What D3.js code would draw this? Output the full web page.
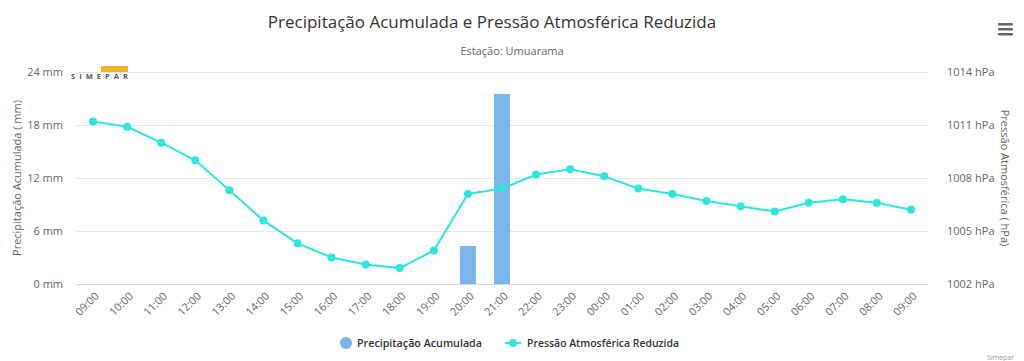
<!DOCTYPE html>
<html><head><meta charset="utf-8">
<script src="https://cdn.jsdelivr.net/npm/d3@7"></script>
<style>body{margin:0;background:#fff;font-family:"Open Sans","DejaVu Sans",sans-serif;}</style>
</head><body><svg id="c" width="1024" height="361"></svg>
<script>
const categories = ["09:00","10:00","11:00","12:00","13:00","14:00","15:00","16:00","17:00","18:00","19:00","20:00","21:00","22:00","23:00","00:00","01:00","02:00","03:00","04:00","05:00","06:00","07:00","08:00","09:00"];
const precip = [0,0,0,0,0,0,0,0,0,0,0,4.3,21.5,0,0,0,0,0,0,0,0,0,0,0,0];
const pressure = [1011.2,1010.9,1010.0,1009.0,1007.3,1005.6,1004.3,1003.5,1003.1,1002.9,1003.9,1007.1,1007.4,1008.2,1008.5,1008.1,1007.4,1007.1,1006.7,1006.4,1006.1,1006.6,1006.8,1006.6,1006.2];
const precipTicks = [0,6,12,18,24];
const pressTicks = [1002,1005,1008,1011,1014];

const svg = d3.select("#c");
const L = 76, R = 928, T = 72, B = 284;
const x = d3.scaleBand().domain(d3.range(categories.length)).range([L, R]).paddingInner(0).paddingOuter(0);
const yL = d3.scaleLinear().domain([0,24]).range([B,T]);
const yR = d3.scaleLinear().domain([1002,1014]).range([B,T]);

// title
svg.append("text").attr("x",492).attr("y",28).attr("text-anchor","middle").attr("font-size",17).attr("fill","#333").text("Precipitação Acumulada e Pressão Atmosférica Reduzida");
svg.append("text").attr("x",512).attr("y",55).attr("text-anchor","middle").attr("font-size",11).attr("fill","#666").text("Estação: Umuarama");

// menu icon
[0,5,10].forEach(d=>svg.append("rect").attr("x",998).attr("y",23+d).attr("width",15).attr("height",2.5).attr("rx",1).attr("fill","#666"));

// grid
svg.append("g").selectAll("line").data(precipTicks).join("line")
  .attr("x1",L).attr("x2",R).attr("y1",d=>Math.round(yL(d))+0.5).attr("y2",d=>Math.round(yL(d))+0.5)
  .attr("stroke",d=>d===0?"#ccd6eb":"#e6e6e6").attr("stroke-width",1);

// left axis labels
const gl = svg.append("g").attr("transform",`translate(${L-8},0)`)
  .call(d3.axisLeft(yL).tickValues(precipTicks).tickSize(0).tickFormat(d=>d+" mm"));
gl.select(".domain").remove();
gl.selectAll("text").attr("font-size",11).attr("fill","#666").attr("font-family","Open Sans, sans-serif").attr("dx",-2);

const gr = svg.append("g").attr("transform",`translate(${R+16},0)`)
  .call(d3.axisRight(yR).tickValues(pressTicks).tickSize(0).tickFormat(d=>d+" hPa"));
gr.select(".domain").remove();
gr.selectAll("text").attr("font-size",11).attr("fill","#666").attr("font-family","Open Sans, sans-serif");

// axis titles
svg.append("text").attr("transform",`translate(21,${(T+B)/2}) rotate(-90)`).attr("text-anchor","middle").attr("font-size",11).attr("fill","#666").text("Precipitação Acumulada ( mm)");
svg.append("text").attr("transform",`translate(1001,${(T+B)/2}) rotate(90)`).attr("text-anchor","middle").attr("font-size",11).attr("fill","#666").text("Pressão Atmosférica ( hPa)");

// x axis labels
const gx = svg.append("g").attr("transform",`translate(0,${B})`)
  .call(d3.axisBottom(x).tickSize(0).tickFormat(i=>categories[i]));
gx.select(".domain").remove();
gx.selectAll("text").attr("font-size",11).attr("fill","#666").attr("font-family","Open Sans, sans-serif")
  .attr("text-anchor","end").attr("transform","translate(4,10) rotate(-45)").attr("dy","0.35em").attr("y",0);

// logo
const logo = svg.append("g");
logo.append("rect").attr("x",101).attr("y",66).attr("width",27).attr("height",6).attr("fill","#f0b429");
logo.append("text").attr("x",71).attr("y",79).attr("font-size",7.5).attr("font-weight","bold").attr("textLength",57).attr("lengthAdjust","spacing").attr("fill","#555").text("SIMEPAR");

// bars
svg.append("g").selectAll("rect").data(precip.map((v,i)=>({v,i})).filter(d=>d.v>0)).join("rect")
  .attr("x",d=>x(d.i)+x.bandwidth()/2-8).attr("width",16)
  .attr("y",d=>yL(d.v)).attr("height",d=>yL(0)-yL(d.v)).attr("fill","#7cb5ec");

// line
const cx = i=>x(i)+x.bandwidth()/2;
svg.append("path").datum(pressure).attr("fill","none").attr("stroke","#2de6dc").attr("stroke-width",2)
  .attr("d",d3.line().x((d,i)=>cx(i)).y(d=>yR(d)));
svg.append("g").selectAll("circle").data(pressure).join("circle")
  .attr("cx",(d,i)=>cx(i)).attr("cy",d=>yR(d)).attr("r",4).attr("fill","#2de6dc");

// legend
const lg = svg.append("g").attr("font-size",11.5).attr("font-weight","600").attr("fill","#333");
lg.append("circle").attr("cx",346).attr("cy",343).attr("r",6).attr("fill","#7cb5ec");
lg.append("text").attr("x",357).attr("y",347).attr("textLength",125).attr("lengthAdjust","spacingAndGlyphs").text("Precipitação Acumulada");
lg.append("line").attr("x1",505).attr("x2",521).attr("y1",343).attr("y2",343).attr("stroke","#2de6dc").attr("stroke-width",2);
lg.append("circle").attr("cx",513).attr("cy",343).attr("r",4).attr("fill","#2de6dc");
lg.append("text").attr("x",527).attr("y",347).attr("textLength",152).attr("lengthAdjust","spacingAndGlyphs").text("Pressão Atmosférica Reduzida");

svg.append("text").attr("x",1014).attr("y",360).attr("text-anchor","end").attr("font-size",7).attr("fill","#999").text("Simepar");
</script></body></html>
